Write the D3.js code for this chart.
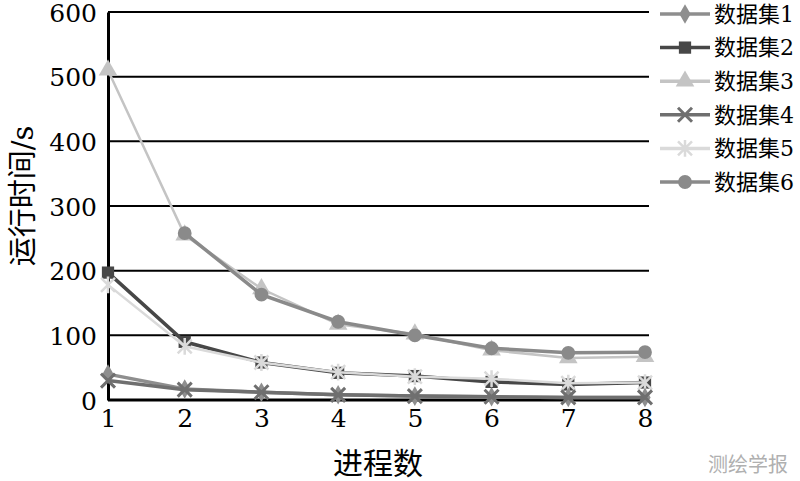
<!DOCTYPE html>
<html>
<head>
<meta charset="utf-8">
<script src="https://cdn.jsdelivr.net/npm/d3@7/dist/d3.min.js"></script>
<style>
  body { margin: 0; background: #fff; }
</style>
</head>
<body>
<div id="container"></div>
<script>
const processes = [1, 2, 3, 4, 5, 6, 7, 8];
const yTicks = [0, 100, 200, 300, 400, 500, 600];
const seriesNames = ['数据集1', '数据集2', '数据集3', '数据集4', '数据集5', '数据集6'];
const set1 = [40, 17, 12, 8, 6, 5, 4, 4];
const set2 = [197, 90, 58, 42, 37, 28, 24, 27];
const set3 = [510, 255, 172, 117, 102, 77, 65, 67];
const set4 = [30, 16, 12, 8, 6, 5, 4, 4];
const set5 = [178, 83, 58, 43, 36, 33, 26, 27];
const set6 = [null, 258, 163, 121, 100, 80, 73, 74];
const seriesValues = [set1, set2, set3, set4, set5, set6];
const colors = ['#8e8e8e', '#474747', '#c4c4c4', '#6f6f6f', '#dadada', '#8a8a8a'];
const symbols = ['diamond', 'square', 'triangle', 'x', 'asterisk', 'circle'];

const FONT = '"DejaVu Serif", "Noto Sans CJK SC", serif';
const width = 800, height = 481;
const margin = { top: 12, left: 108 };
const plotW = 645 - 108, plotH = 400 - 12;

const svg = d3.select('#container').append('svg')
  .attr('width', width)
  .attr('height', height)
  .style('font-family', FONT);

const x = d3.scaleLinear().domain([1, 8]).range([margin.left, margin.left + plotW]);
const y = d3.scaleLinear().domain([0, 600]).range([margin.top + plotH, margin.top]);

// grid lines
svg.append('g').selectAll('line')
  .data(yTicks.filter(d => d > 0)).enter()
  .append('line')
  .attr('x1', x(1)).attr('x2', x(8) + 4)
  .attr('y1', d => y(d)).attr('y2', d => y(d))
  .attr('stroke', '#000').attr('stroke-width', 2);

// axes
const yAxis = svg.append('g')
  .attr('transform', `translate(${x(1)},0)`)
  .call(d3.axisLeft(y).tickValues(yTicks).tickSize(0).tickPadding(11));
const xAxis = svg.append('g')
  .attr('transform', `translate(0,${y(0)})`)
  .call(d3.axisBottom(x).tickValues(processes).tickFormat(d3.format('d')).tickSize(0).tickPadding(9));
[yAxis, xAxis].forEach(a => {
  a.attr('font-family', null);
  a.select('.domain').attr('stroke', '#000').attr('stroke-width', 3);
  a.selectAll('text').style('font-family', FONT).style('font-size', '25px').attr('fill', '#000');
});
yAxis.selectAll('text').attr('dy', '0.36em');
xAxis.select('.domain').attr('d', `M${x(1)},0H${x(8) + 4}`);

function drawSymbol(g, type, color, size) {
  const s = size;
  if (type === 'x') {
    g.append('path').attr('d', `M${-s},${-s}L${s},${s}M${-s},${s}L${s},${-s}`)
      .attr('stroke', color).attr('stroke-width', 3).attr('fill', 'none');
  } else if (type === 'asterisk') {
    g.append('path').attr('d', `M${-s},${-s}L${s},${s}M${-s},${s}L${s},${-s}M0,${-s * 1.2}L0,${s * 1.2}`)
      .attr('stroke', color).attr('stroke-width', 2.5).attr('fill', 'none');
  } else {
    const map = { diamond: d3.symbolDiamond, square: d3.symbolSquare, triangle: d3.symbolTriangle, circle: d3.symbolCircle };
    const area = { diamond: 110, square: 150, triangle: 150, circle: 150 }[type];
    g.append('path').attr('d', d3.symbol().type(map[type]).size(area)())
      .attr('fill', color);
  }
}

const line = d3.line()
  .defined(d => d[1] !== null)
  .x(d => x(d[0]))
  .y(d => y(d[1]));

const drawOrder = [2, 5, 1, 4, 0, 3];
drawOrder.forEach(i => {
  const pts = processes.map((p, j) => [p, seriesValues[i][j]]);
  svg.append('path')
    .datum(pts)
    .attr('d', line)
    .attr('fill', 'none')
    .attr('stroke', colors[i])
    .attr('stroke-width', i === 2 || i === 4 ? 2.5 : 3.5);
  pts.filter(d => d[1] !== null).forEach(d => {
    const g = svg.append('g').attr('transform', `translate(${x(d[0])},${y(d[1])})`);
    drawSymbol(g, symbols[i], colors[i], 7);
  });
});

// legend
const legend = svg.append('g');
seriesNames.forEach((name, i) => {
  const ly = 14 + i * 33.6;
  const g = legend.append('g').attr('transform', `translate(0,${ly})`);
  g.append('line').attr('x1', 660).attr('x2', 710).attr('y1', 0).attr('y2', 0)
    .attr('stroke', colors[i]).attr('stroke-width', 3.5);
  const sg = g.append('g').attr('transform', 'translate(685,0)');
  drawSymbol(sg, symbols[i], colors[i], 7);
  g.append('text').attr('x', 714).attr('y', 0).attr('dy', '0.35em')
    .style('font-family', FONT)
    .style('font-size', '22px').attr('fill', '#000').text(name);
});

// axis titles
svg.append('text')
  .attr('transform', `translate(33,${(y(0) + y(600)) / 2 - 10}) rotate(-90)`)
  .attr('text-anchor', 'middle')
  .style('font-family', FONT)
  .style('font-size', '29px')
  .text('运行时间/s');

svg.append('text')
  .attr('x', 378).attr('y', 474)
  .attr('text-anchor', 'middle')
  .style('font-family', FONT)
  .style('font-size', '30px')
  .text('进程数');

svg.append('text')
  .attr('x', 748).attr('y', 472)
  .attr('text-anchor', 'middle')
  .style('font-family', FONT)
  .style('font-size', '20px')
  .attr('fill', '#b0b0b0')
  .text('测绘学报');
</script>
</body>
</html>
